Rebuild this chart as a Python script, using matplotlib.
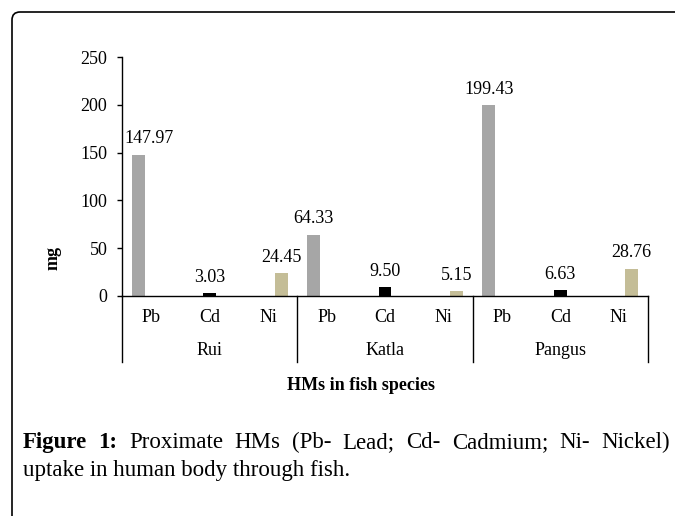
import numpy as np
import matplotlib
matplotlib.use("Agg")
import matplotlib.pyplot as plt
from matplotlib.patches import FancyBboxPatch

# ======================== DATA ============================
fish = ["Rui", "Katla", "Pangus"]
metals = ["Pb", "Cd", "Ni"]
pb_vals = [147.97, 64.33, 199.43]
cd_vals = [3.03, 9.50, 6.63]
ni_vals = [24.45, 5.15, 28.76]
y_ticks = [0, 50, 100, 150, 200, 250]

caption_l1 = ["Figure", "1:", "Proximate", "HMs", "(Pb-", "Lead;", "Cd-",
              "Cadmium;", "Ni-", "Nickel)"]
caption_l2 = "uptake in human body through fish."

# ======================== STYLE ============================
plt.rcParams['font.family'] = ['Liberation Serif', 'DejaVu Serif']
colors = {"Pb": "#A6A6A6", "Cd": "#000000", "Ni": "#C4BD97"}
W, H = 675, 516
BAR_W = 1 / 4.5   # excel clustered, gap width 150%
FS = 13

fig = plt.figure(figsize=(W / 100, H / 100), dpi=100)
ax = fig.add_axes([122 / W, 1 - 296 / H, 526 / W, 239 / H])

series = {"Pb": pb_vals, "Cd": cd_vals, "Ni": ni_vals}
for m_idx, m in enumerate(metals):
    vals = series[m]
    xs = np.arange(len(fish)) * len(metals) + m_idx + (m_idx - 1) * BAR_W
    ax.bar(xs, vals, width=BAR_W, color=colors[m], zorder=2)
    for j, (x, v) in enumerate(zip(xs, vals)):
        dx = 11 if (m_idx == 0 and j == 0) else 0   # first label nudged off the axis
        ax.annotate(f"{v:.2f}", (x, v), xytext=(dx * 0.72, 8), textcoords="offset points",
                    ha="center", va="baseline", fontsize=FS)

n_cat = len(fish) * len(metals)
ax.set_xlim(-0.5, n_cat - 0.5)
ax.set_ylim(0, 250)
ax.set_yticks(y_ticks)
ax.tick_params(axis="y", direction="out", length=3.6, width=1, pad=7, labelsize=FS)
ax.set_xticks([])
for s in ["top", "right"]:
    ax.spines[s].set_visible(False)
for s in ["left", "bottom"]:
    ax.spines[s].set_linewidth(1)
    ax.spines[s].set_color("black")

# multi-level category axis
tr = ax.get_xaxis_transform()
for g in range(len(fish) + 1):
    xg = g * len(metals) - 0.5
    ax.plot([xg, xg], [0, -0.276], color="black", lw=1, transform=tr, clip_on=False)
for g, f in enumerate(fish):
    for m_idx, m in enumerate(metals):
        ax.text(g * len(metals) + m_idx, -0.088, m, transform=tr,
                ha="center", va="center", fontsize=FS)
    ax.text(g * len(metals) + 1, -0.226, f, transform=tr,
            ha="center", va="center", fontsize=FS)

ax.set_ylabel("mg", fontsize=FS, fontweight="bold", labelpad=0)
ax.yaxis.set_label_coords(53 / W, 0.5, transform=fig.transFigure)
ax.yaxis.label.set_verticalalignment("center")
fig.text(361 / W, 1 - 385 / H, "HMs in fish species", ha="center", va="center",
         fontsize=FS, fontweight="bold")

# rounded frame around figure + caption
frame = FancyBboxPatch((0.12, -1.0), 8.0, 5.04 + 1.0, boxstyle="round,pad=0,rounding_size=0.08",
                       transform=fig.dpi_scale_trans, fill=False, ec="black", lw=1.2)
fig.patches.append(frame)

# caption, first line justified
CAP_FS = 16.5
x_left, x_right = 23, 670
fig.canvas.draw()
renderer = fig.canvas.get_renderer()
texts = []
for i, w in enumerate(caption_l1):
    t = fig.text(0, 1 - 448 / H, w, fontsize=CAP_FS, va="baseline", ha="left",
                 fontweight="bold" if i < 2 else "normal")
    texts.append(t)
widths = [t.get_window_extent(renderer).width for t in texts]
gap = (x_right - x_left - sum(widths)) / (len(texts) - 1)
xpos = x_left
for t, w in zip(texts, widths):
    t.set_x(xpos / W)
    xpos += w + gap
fig.text(x_left / W, 1 - 476 / H, caption_l2, fontsize=CAP_FS, va="baseline", ha="left")

fig.savefig("out.png", dpi=100)
